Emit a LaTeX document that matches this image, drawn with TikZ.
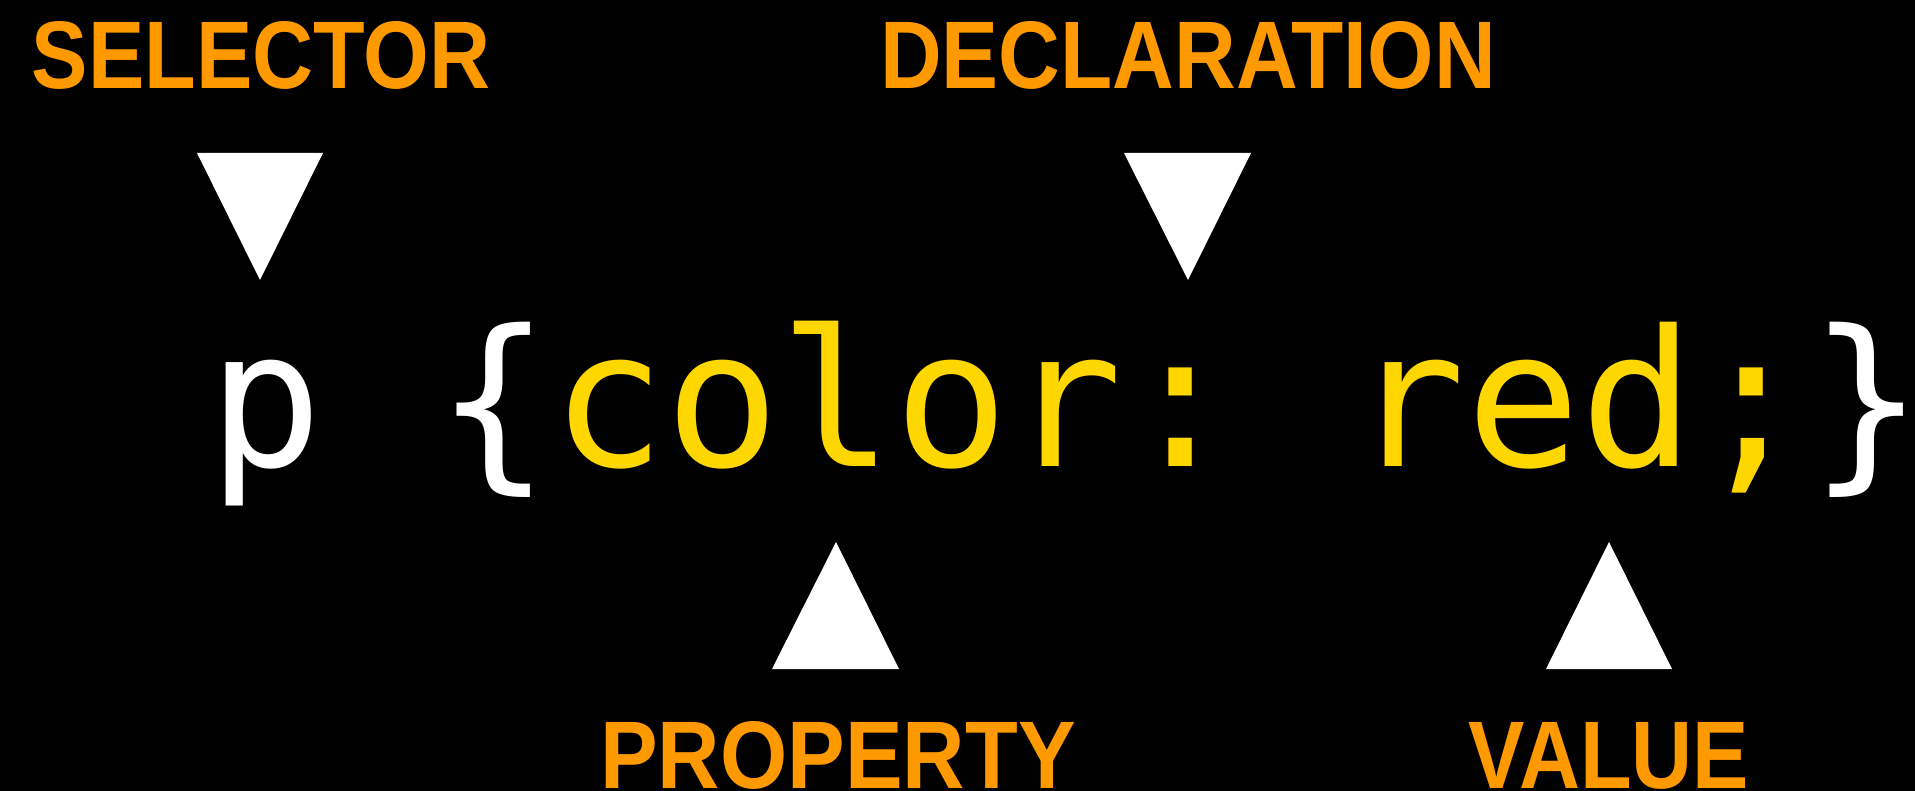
\documentclass[tikz,border=0pt]{standalone}
\usepackage{fontspec}
\usepackage{graphicx}
\newfontfamily\labelfont{Liberation Sans}
\newfontfamily\codefont{DejaVu Sans Mono}
\definecolor{lblorange}{HTML}{FF9900}
\definecolor{codegold}{HTML}{FFD700}
\tikzset{
  lbl/.style={text=lblorange, inner sep=0pt, outer sep=0pt, anchor=base,
    font=\labelfont\bfseries\fontsize{96}{96}\selectfont},
  pointer/.style={fill=white, draw=none},
  codeline/.style={inner sep=0pt, outer sep=0pt, anchor=base west,
    font=\codefont\fontsize{190}{190}\selectfont\frenchspacing}
}
\begin{document}
\begin{tikzpicture}[x=1pt,y=-1pt]
\fill[black] (0,0) rectangle (1915,791);
\useasboundingbox (0,0) rectangle (1915,791);

% labels
\node[lbl] (selector) at (261,89) {\scalebox{0.88}[1]{SELECTOR}};
\node[lbl] (declaration) at (1188,89) {\scalebox{0.89}[1]{DECLARATION}};
\node[lbl] (property) at (838,788) {\scalebox{0.9}[1]{PROPERTY}};
\node[lbl] (value) at (1609,788) {\scalebox{0.88}[1]{VALUE}};

% code
\node[codeline] (code) at (208,467)
  {\color{white}p \{\color{codegold}color: red;\color{white}\}\kern-20pt};

% pointers
\fill[pointer] (197,153) coordinate (selA) -- (323,153) coordinate (selB) -- (260,280) coordinate (selTip) -- cycle;
\fill[pointer] (1124,153) coordinate (decA) -- (1251,153) coordinate (decB) -- (1188,280) coordinate (decTip) -- cycle;
\fill[pointer] (772,669) coordinate (proA) -- (899,669) coordinate (proB) -- (836,542) coordinate (proTip) -- cycle;
\fill[pointer] (1546,669) coordinate (valA) -- (1672,669) coordinate (valB) -- (1609,542) coordinate (valTip) -- cycle;
\end{tikzpicture}
\end{document}
